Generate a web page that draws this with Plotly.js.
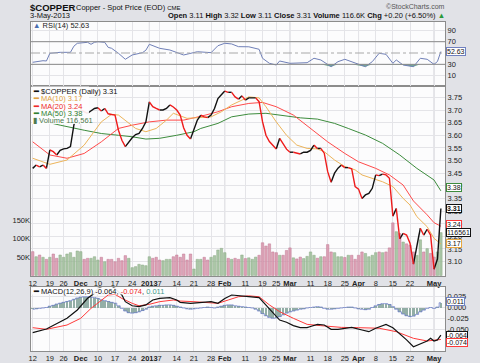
<!DOCTYPE html>
<html><head><meta charset="utf-8">
<script src="https://cdn.plot.ly/plotly-3.0.1.min.js"></script>
<style>html,body{margin:0;padding:0;background:#e1e2e7;}#chart{width:480px;height:363px;}</style>
</head><body><div id="chart"></div>
<script>
// ---------------- DATA (trading-day index 0 = 12-Nov-2012 ... 119 = 3-May-2013) ----------------
const tickIdx  = [0,5,9,14,19,24,29,34,37,42,47,52,56,62,67,71,75,81,86,91,95,100,105,110,117];
const tickText = ['12','19','26','Dec','10','17','24','2013','7','14','21','28','Feb','11','19','25','Mar','11','18','25','Apr','8','15','22','May'];
const monthTicks = ['Dec','2013','Feb','Mar','Apr','May'];

const closeVals = [
3.469,3.482,3.475,3.482,3.469,3.542,3.535,3.522,3.540,3.546,
3.548,3.555,3.640,3.690,3.700,3.695,3.687,3.696,3.706,3.709,
3.696,3.706,3.685,3.682,3.680,3.620,3.580,3.555,3.574,3.590,
3.603,3.607,3.627,3.653,3.732,3.713,3.706,3.700,3.700,3.706,
3.720,3.712,3.700,3.680,3.630,3.600,3.585,3.620,3.660,3.680,
3.673,3.670,3.680,3.706,3.745,3.760,3.775,3.770,3.770,3.752,
3.743,3.756,3.739,3.748,3.748,3.748,3.733,3.654,3.600,3.575,
3.560,3.546,3.588,3.568,3.545,3.533,3.533,3.530,3.526,3.533,
3.533,3.540,3.561,3.548,3.548,3.529,3.456,3.414,3.450,3.470,
3.482,3.472,3.472,3.467,3.397,3.387,3.350,3.364,3.370,3.390,
3.443,3.440,3.446,3.443,3.430,3.280,3.310,3.190,3.212,3.205,
3.173,3.090,3.160,3.232,3.205,3.228,3.205,3.070,3.110,3.310];

const volumeK = [
64.8,51,55.7,49.5,43.9,49.5,58.4,46.7,55.7,49.5,
58.4,62,49.5,66.6,64.8,43.9,46.7,46.7,51,42,
49.5,37.5,43.9,43.9,37.5,46.7,40.3,54,46.7,21.3,
24.1,30.4,28.5,26.7,51,46.7,49.5,42,40.3,43.9,
43.9,51,55.7,49.5,58.4,42,58.4,17.6,43.9,43.9,
49.5,42,49.5,54,69.3,73.8,62,46.7,43.9,46.7,
43.9,55.7,46,48,44,50,55,89,80,86,
64,62,55,55,68,75,48,45,50,46,
52,64,55,47,51,51,84,64,62,51,
51,49,55,55,44,55,64,60,51,55,
62,64,62,64,75,143,119,114,91,86,
82,64,55,97,64,73,60,50,64,116.561];

const ma10X = [0,5,10,15,20,23,25,27,30,33,36,39,41,45,47,49,52,55,58,63,66,68,71,74,77,80,83,85,88,91,94,96,99,102,105,108,110,112,115,117,119];
const ma10Y = [3.509,3.485,3.502,3.561,3.653,3.683,3.680,3.660,3.627,3.614,3.627,3.660,3.687,3.667,3.669,3.669,3.673,3.693,3.720,3.752,3.748,3.713,3.653,3.600,3.561,3.548,3.546,3.535,3.502,3.476,3.463,3.443,3.430,3.416,3.397,3.350,3.324,3.278,3.238,3.192,3.17];
const ma20X = [0,5,10,15,20,25,29,34,39,44,49,54,58,63,67,71,76,81,86,91,95,100,104,108,111,115,117,119];
const ma20Y = [3.574,3.522,3.509,3.528,3.574,3.627,3.640,3.653,3.660,3.660,3.675,3.693,3.713,3.726,3.730,3.713,3.680,3.627,3.574,3.528,3.495,3.469,3.443,3.403,3.340,3.285,3.254,3.24];
const ma50X = [0,4,8,15,20,25,29,33,37,42,47,49,54,58,63,68,73,78,83,88,92,97,102,107,112,117,119];
const ma50Y = [3.665,3.652,3.640,3.620,3.607,3.600,3.594,3.585,3.588,3.600,3.614,3.627,3.647,3.673,3.684,3.687,3.677,3.669,3.664,3.647,3.627,3.601,3.568,3.522,3.469,3.423,3.38];

const rsiX = [0,3,4,5,8,11,12,13,16,17,18,19,21,22,23,25,27,29,32,33,34,37,40,44,48,52,54,56,58,60,63,66,67,69,71,72,75,77,80,82,84,87,89,91,93,97,99,101,103,105,106,108,111,113,115,117,118,119];
const rsiY = [33.6,36.4,35.9,49.5,51.2,51.2,62,67.2,68.9,65.4,68.9,70,68.9,60,58.3,49.5,38.9,46.5,50.6,55,65.4,58.3,55.3,46.5,52.3,50.6,62.9,67.2,66,61.2,61,56.6,40.7,31.8,28.8,35.9,31.8,31.8,32.9,40.7,37.7,25.8,34.7,38.9,34.7,25.8,34.7,49.5,47.7,31.8,37.7,28.8,25.8,40.7,38.9,30,35,52.63];

const macdX = [0,4,10,13,16,18,19,21,23,24,26,27,29,31,33,35,37,40,42,43,46,49,52,54,56,58,60,63,66,68,70,72,74,76,78,80,81,83,85,87,89,91,93,96,98,100,103,105,107,109,111,113,115,116,117,118,119];
const macdY = [-0.058,-0.0498,-0.025,-0.0058,0.0213,0.0329,0.044,0.052,0.05,0.044,0.029,0.0135,0.004,0.002,0.006,0.0174,0.021,0.023,0.0174,0.012,0.0097,0.012,0.0135,0.0097,0.021,0.029,0.028,0.025,0.023,0.006,-0.0134,-0.029,-0.034,-0.042,-0.0467,-0.0467,-0.044,-0.039,-0.0405,-0.0505,-0.0505,-0.048,-0.046,-0.052,-0.056,-0.048,-0.039,-0.0467,-0.060,-0.075,-0.0907,-0.085,-0.0775,-0.0713,-0.0775,-0.075,-0.064];
const signalX = [0,4,10,14,17,20,22,24,26,29,31,34,37,41,43,47,51,54,57,60,63,66,69,72,76,80,84,90,95,101,106,111,115,119];
const signalY = [-0.0467,-0.0505,-0.0405,-0.025,-0.002,0.0174,0.029,0.0305,0.021,0.0097,0.004,0.0074,0.0135,0.0174,0.015,0.0135,0.012,0.0097,0.0174,0.025,0.027,0.025,0.006,-0.0097,-0.025,-0.039,-0.042,-0.046,-0.0467,-0.048,-0.056,-0.0713,-0.0775,-0.074];
const histVals = [
-0.004,-0.003,-0.002,-0.001,0.000,0.003,0.005,0.008,0.010,0.012,
0.014,0.016,0.019,0.022,0.024,0.025,0.025,0.024,0.023,0.021,
0.018,0.016,0.014,0.012,0.010,0.004,-0.002,-0.008,-0.012,-0.013,
-0.012,-0.010,-0.007,-0.004,0.001,0.003,0.004,0.005,0.005,0.006,
0.006,0.005,0.003,0.001,-0.001,-0.003,-0.004,-0.003,-0.002,-0.001,
0.000,0.001,0.000,-0.001,0.001,0.003,0.005,0.006,0.006,0.004,
0.003,0.002,0.001,0.000,-0.001,-0.004,-0.008,-0.014,-0.019,-0.023,
-0.025,-0.024,-0.021,-0.017,-0.013,-0.010,-0.008,-0.006,-0.004,-0.003,
-0.001,0.000,0.001,0.002,0.001,-0.002,-0.004,-0.004,-0.003,-0.002,
-0.001,0.000,0.001,0.001,-0.001,-0.003,-0.004,-0.005,-0.004,0.000,
0.004,0.007,0.009,0.009,0.007,0.002,-0.004,-0.010,-0.015,-0.019,
-0.021,-0.020,-0.016,-0.010,-0.006,-0.002,0.000,-0.002,0.001,0.011];

const rsiLow = 30, rsiHigh = 70;
const headerStats = {open:'3.11', high:'3.32', low:'3.11', close:'3.31', volume:'116.6K', chg:'+0.20 (+6.50%)'};

// ---------------- BUILD ----------------
const N = closeVals.length;
const idx = closeVals.map((_, i) => i);
const last = a => a[a.length-1];

// price line split into up (black) / down (red) runs
const blk = {x:[], y:[]}, red = {x:[], y:[]};
let prevDown = null;
for (let i = 1; i < N; i++) {
  const down = closeVals[i] < closeVals[i-1];
  const t = down ? red : blk;
  if (down !== prevDown) {
    const o = down ? blk : red;
    if (o.x.length) { o.x.push(null); o.y.push(null); }
    t.x.push(i-1); t.y.push(closeVals[i-1]);
  }
  t.x.push(i); t.y.push(closeVals[i]);
  prevDown = down;
}
const isUp = i => i > 0 && closeVals[i] >= closeVals[i-1];
const volColors = idx.map(i => isUp(i) ? 'rgba(150,185,145,0.8)' : 'rgba(214,140,165,0.8)');
const volLines  = idx.map(i => isUp(i) ? '#8aa985' : '#c07a95');

const FONT = 'Liberation Sans, Arial, sans-serif';
const C_MA10 = '#ecb45a', C_MA20 = '#ff4a4a', C_MA50 = '#3d8c3d';

const traces = [
  {type:'bar', x:idx, y:volumeK.map(v=>v*1000), xaxis:'x', yaxis:'y', width:0.72,
   marker:{color:volColors, line:{color:volLines, width:0.5}}, hoverinfo:'skip'},
  {type:'scatter', mode:'lines', x:ma50X, y:ma50Y, xaxis:'x', yaxis:'y2', line:{color:C_MA50, width:1}},
  {type:'scatter', mode:'lines', x:ma20X, y:ma20Y, xaxis:'x', yaxis:'y2', line:{color:C_MA20, width:1}},
  {type:'scatter', mode:'lines', x:ma10X, y:ma10Y, xaxis:'x', yaxis:'y2', line:{color:C_MA10, width:1}},
  {type:'scatter', mode:'lines', x:blk.x, y:blk.y, xaxis:'x', yaxis:'y2', connectgaps:false, line:{color:'#111', width:1.4}},
  {type:'scatter', mode:'lines', x:red.x, y:red.y, xaxis:'x', yaxis:'y2', connectgaps:false, line:{color:'#ee1c1c', width:1.4}},
  // RSI oversold fill (between 30 and the RSI line where it dips below)
  {type:'scatter', mode:'lines', x:rsiX, y:rsiX.map(()=>rsiLow), xaxis:'x2', yaxis:'y3', line:{width:0, color:'rgba(0,0,0,0)'}},
  {type:'scatter', mode:'lines', x:rsiX, y:rsiY.map(v=>Math.min(v, rsiLow)), xaxis:'x2', yaxis:'y3', fill:'tonexty', fillcolor:'rgba(70,140,110,0.75)', line:{width:0, color:'rgba(0,0,0,0)'}},
  {type:'scatter', mode:'lines', x:rsiX, y:rsiY, xaxis:'x2', yaxis:'y3', line:{color:'#7080b8', width:1}},
  {type:'bar', x:idx, y:histVals, xaxis:'x3', yaxis:'y4', width:0.8, marker:{color:'#93aea6', line:{width:0}}},
  {type:'scatter', mode:'lines', x:idx, y:histVals, xaxis:'x3', yaxis:'y4', line:{color:'#6d7fc6', width:0.8, shape:'hvh'}},
  {type:'scatter', mode:'lines', x:signalX, y:signalY, xaxis:'x3', yaxis:'y4', line:{color:'#ff3a3a', width:1}},
  {type:'scatter', mode:'lines', x:macdX, y:macdY, xaxis:'x3', yaxis:'y4', line:{color:'#111', width:1.2}}
];

// geometry in pixels
const L = 31, R = 445, T = 22, B = 351;
const px = x => (x - L) / (R - L);
const py = y => (B - y) / (B - T);
const dRSI = [py(86), 1], dPrice = [py(276), py(86)], dMACD = [0, py(287)];

const tickTextFmt = tickText.map(t => monthTicks.includes(t) ? '<b>'+t+'</b>' : t);
const xCommon = {range:[-0.5,120.2], tickvals:tickIdx, ticktext:tickTextFmt, tickangle:0, tickfont:{size:7.5, family:FONT, color:'#222'},
  showgrid:true, gridcolor:'#e4e4e8', gridwidth:1, showline:true, mirror:true, linecolor:'#8c8c8c', linewidth:1,
  ticks:'', ticklen:0, zeroline:false, fixedrange:true, automargin:false};
const yTick = {size:7.5, family:FONT, color:'#222'};

const priceTicks = [3.10,3.15,3.20,3.25,3.30,3.35,3.40,3.45,3.50,3.55,3.60,3.65,3.70,3.75];

const shapes = [];
// month gridlines (slightly darker)
tickIdx.forEach((v,k)=>{ if (monthTicks.includes(tickText[k])) {
  [dRSI, dPrice, dMACD].forEach(d => shapes.push({type:'line', xref:'x', yref:'paper', x0:v, x1:v, y0:d[0], y1:d[1], line:{color:'#cfcfd6', width:1}, layer:'below'}));
}});
shapes.push({type:'line', xref:'paper', yref:'y3', x0:0, x1:1, y0:rsiHigh, y1:rsiHigh, line:{color:'#8a8a8a', width:1}});
shapes.push({type:'line', xref:'paper', yref:'y3', x0:0, x1:1, y0:rsiLow, y1:rsiLow, line:{color:'#8a8a8a', width:1}});
shapes.push({type:'line', xref:'paper', yref:'y3', x0:0, x1:1, y0:50, y1:50, line:{color:'#a8a8a8', width:1, dash:'dashdot'}});
// legend backdrops
shapes.push({type:'rect', xref:'paper', yref:'paper', x0:0.002, x1:px(89), y0:py(124), y1:py(86.5), fillcolor:'rgba(253,253,254,0.9)', line:{width:0}, layer:'above'});
shapes.push({type:'rect', xref:'paper', yref:'paper', x0:0.002, x1:px(169), y0:py(294.5), y1:py(287.5), fillcolor:'rgba(253,253,254,0.92)', line:{width:0}, layer:'above'});

const ann = [];
const A = (o) => ann.push(Object.assign({xref:'paper', yref:'paper', showarrow:false, font:{family:FONT, size:7.5, color:'#111'}, xanchor:'left', yanchor:'middle', borderpad:0}, o));
// header
A({x:px(29), y:py(7.5), text:'<b>$COPPER</b>', font:{family:FONT, size:9.5, color:'#111'}});
A({x:px(75), y:py(7.5), text:'Copper - Spot Price (EOD) <span style="font-size:6px">CME</span>', font:{family:FONT, size:7.5, color:'#111'}});
A({x:px(29), y:py(16), text:'3-May-2013', font:{family:FONT, size:7.5, color:'#111'}});
A({x:px(446), y:py(6.5), xanchor:'right', text:'©StockCharts.com', font:{family:FONT, size:7, color:'#555'}});
A({x:px(446), y:py(16), xanchor:'right', text:'<b>Open</b> '+headerStats.open+' <b>High</b> '+headerStats.high+' <b>Low</b> '+headerStats.low+' <b>Close</b> '+headerStats.close+' <b>Volume</b> '+headerStats.volume+' <b>Chg</b> '+headerStats.chg+' <span style="color:#2a9a3a">▲</span>', font:{family:FONT, size:7.5, color:'#111'}});
// panel legends
A({x:px(32), y:py(25.5), text:'<span style="color:#4a6fb0">▲</span> RSI(14) '+last(rsiY).toFixed(2), font:{family:FONT, size:7.5, color:'#222'}});
A({x:px(32), y:py(91), text:'<b>━</b> $COPPER (Daily) '+last(closeVals).toFixed(2)});
A({x:px(32), y:py(98.5), text:'<b>━</b> MA(10) '+last(ma10Y).toFixed(2), font:{family:FONT, size:7.5, color:'#e0a040'}});
A({x:px(32), y:py(106), text:'<b>━</b> MA(20) '+last(ma20Y).toFixed(2), font:{family:FONT, size:7.5, color:'#ee2a2a'}});
A({x:px(32), y:py(113.5), text:'<b>━</b> MA(50) '+last(ma50Y).toFixed(2), font:{family:FONT, size:7.5, color:'#2f7f2f'}});
A({x:px(32), y:py(121), text:'▮ Volume '+Math.round(last(volumeK)*1000).toLocaleString('en-US'), font:{family:FONT, size:7.5, color:'#4f7a4f'}});
A({x:px(32), y:py(291), text:'<b>━</b> MACD(12,26,9) '+last(macdY).toFixed(3)+', <span style="color:#ee2a2a">'+last(signalY).toFixed(3)+'</span>, <span style="color:#3f9a8a">'+last(histVals).toFixed(3)+'</span>'});

// right-side value tags
const tag = (yref, y, text, color, yshift, bold) => ann.push({xref:'paper', yref:yref, x:1, y:y, xanchor:'left', yanchor:'middle', xshift:1, yshift:yshift||0,
  text: bold ? '<b>'+text+'</b>' : text, showarrow:false, bgcolor:'#ffffff', bordercolor:color, borderwidth:1, borderpad:0,
  font:{family:FONT, size:7, color:'#111'}});
tag('y3', last(rsiY), last(rsiY).toFixed(2), '#6f80c0');
tag('y2', last(ma50Y), last(ma50Y).toFixed(2), '#3d8c3d', 3);
tag('y2', last(closeVals), last(closeVals).toFixed(2), '#111', 0, true);
tag('y2', last(ma20Y), last(ma20Y).toFixed(2), '#ff3a3a', 2);
tag('y', last(volumeK)*1000, String(Math.round(last(volumeK)*1000)), '#111', 0);
tag('y2', last(ma10Y), last(ma10Y).toFixed(2), '#e8a840', 0);
tag('y4', last(histVals), last(histVals).toFixed(3), '#6f80c0', 1);
tag('y4', last(macdY), last(macdY).toFixed(3), '#111', 0);
tag('y4', last(signalY), last(signalY).toFixed(3), '#ff3a3a', -3);

const layout = {
  width:480, height:363, margin:{l:L, r:480-R, t:T, b:363-B, pad:0},
  paper_bgcolor:'#e1e2e7', plot_bgcolor:'#fcfcfd', showlegend:false, bargap:0,
  font:{family:FONT, size:7.5, color:'#222'},
  xaxis: Object.assign({}, xCommon, {anchor:'y', domain:[0,1]}),
  yaxis: {domain:dPrice, anchor:'x', side:'left', range:[-1400,515000], tickvals:[50000,100000,150000], ticktext:['50K','100K','150K'],
          showgrid:false, zeroline:false, showline:false, ticks:'', tickfont:yTick, fixedrange:true},
  yaxis2: {overlaying:'y', anchor:'x', side:'right', range:[3.043,3.795], tickvals:priceTicks, ticktext:priceTicks.map(v=>v.toFixed(2)),
          showgrid:true, gridcolor:'#e4e4e8', zeroline:false, showline:true, mirror:true, linecolor:'#8c8c8c', ticks:'', tickfont:yTick, fixedrange:true},
  xaxis2: Object.assign({}, xCommon, {anchor:'y3', matches:'x', showticklabels:false}),
  yaxis3: {domain:dRSI, anchor:'x2', side:'right', range:[-8.3,104.8], tickvals:[10,30,70,90], showgrid:true, gridcolor:'#e4e4e8',
          zeroline:false, showline:true, mirror:true, linecolor:'#8c8c8c', ticks:'', tickfont:yTick, fixedrange:true},
  xaxis3: Object.assign({}, xCommon, {anchor:'y4', matches:'x'}),
  yaxis4: {domain:dMACD, anchor:'x3', side:'right', range:[-0.1007,0.0475], tickvals:[0.025,0,-0.025,-0.05], ticktext:['0.025','0.000','-0.025','-0.050'],
          showgrid:true, gridcolor:'#e4e4e8', zeroline:false, showline:true, mirror:true, linecolor:'#8c8c8c', ticks:'', tickfont:yTick, fixedrange:true},
  shapes: shapes, annotations: ann
};
Plotly.newPlot('chart', traces, layout, {staticPlot:true, displayModeBar:false});
</script></body></html>
